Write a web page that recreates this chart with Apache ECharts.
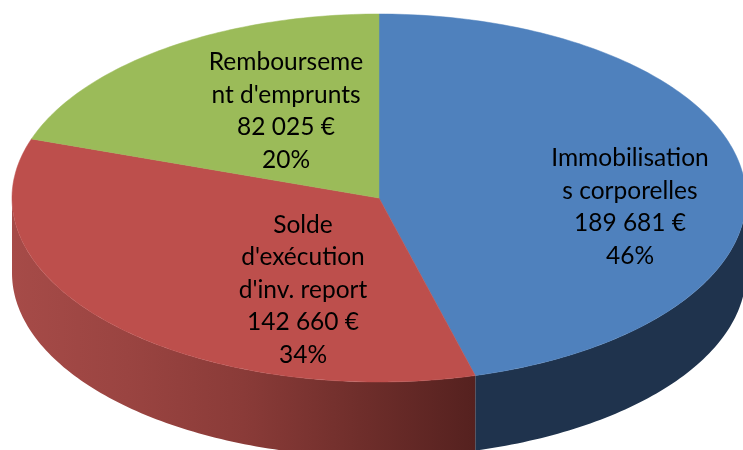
<!DOCTYPE html>
<html style="height: 100%">
<head>
    <meta charset="utf-8">
    <title>Emplois</title>
    <script src="https://cdn.jsdelivr.net/npm/echarts@6/dist/echarts.min.js"></script>
</head>
<body style="height: 100%; margin: 0; background: #fff">
<div id="container" style="width: 743px; height: 450px"></div>
<script type="text/javascript">
// chart data
var sliceNames = ['Immobilisation\ns corporelles', "Solde\nd'exécution\nd'inv. report", "Rembourseme\nnt d'emprunts"];
var sliceValues = [189681, 142660, 82025];
var slicePercents = ['46%', '34%', '20%'];
var valueLabels = ['189 681 €', '142 660 €', '82 025 €'];

// look of the flattened 3d pie
var topColors = ['#4f81bd', '#bd4f4c', '#9bbb59'];
var wallStops = [
    [{ offset: 0, color: '#1f334d' }, { offset: 1, color: '#1f334d' }],
    [
        { offset: 0, color: '#a64b48' },
        { offset: 0.25, color: '#9a4441' },
        { offset: 0.5, color: '#8a3b38' },
        { offset: 0.75, color: '#6f2e2b' },
        { offset: 1, color: '#55211f' }
    ],
    [{ offset: 0, color: '#6f8a3c' }, { offset: 1, color: '#6f8a3c' }]
];
var labelCenters = [[630, 207], [303, 290], [286, 111]];
var cx = 379, cy = 198, rx = 367, ry = 184, depth = 75;
var lineHeight = 32.5;

var total = sliceValues.reduce(function (a, b) { return a + b; }, 0);

function pointAt(deg, dy) {
    var r = deg * Math.PI / 180;
    return [cx + rx * Math.sin(r), cy - ry * Math.cos(r) + dy];
}

function arc(from, to, dy) {
    var pts = [];
    var n = Math.max(2, Math.ceil(Math.abs(to - from)));
    for (var i = 0; i <= n; i++) {
        pts.push(pointAt(from + (to - from) * i / n, dy));
    }
    return pts;
}

function renderSlice(params, api) {
    var idx = params.dataIndex;
    var before = 0;
    for (var i = 0; i < idx; i++) before += sliceValues[i];
    var start = before / total * 360;
    var end = (before + api.value(0)) / total * 360;
    var children = [];

    // only the front half of the rim can be seen
    var wallFrom = Math.max(start, 90), wallTo = Math.min(end, 270);
    if (wallTo > wallFrom) {
        children.push({
            type: 'polygon',
            shape: { points: arc(wallFrom, wallTo, 0).concat(arc(wallTo, wallFrom, depth)) },
            style: { fill: new echarts.graphic.LinearGradient(0, 0, 1, 0, wallStops[idx]) },
            z2: 1
        });
    }

    children.push({
        type: 'polygon',
        shape: { points: [[cx, cy]].concat(arc(start, end, 0)) },
        style: { fill: topColors[idx], stroke: topColors[idx], lineWidth: 0.5 },
        z2: 2
    });

    var text = sliceNames[idx] + '\n' + valueLabels[idx] + '\n' + slicePercents[idx];
    children.push({
        type: 'text',
        x: labelCenters[idx][0],
        y: labelCenters[idx][1],
        style: {
            text: text,
            fill: '#000',
            font: '24.5px Lato',
            lineHeight: lineHeight,
            align: 'center',
            verticalAlign: 'middle'
        },
        z2: 3
    });

    return { type: 'group', children: children };
}

var dom = document.getElementById('container');
var myChart = echarts.init(dom, null, { renderer: 'canvas' });

var option = {
    animation: false,
    series: [{
        type: 'custom',
        coordinateSystem: 'none',
        renderItem: renderSlice,
        data: sliceValues.map(function (v, i) { return { name: sliceNames[i], value: [v] }; })
    }]
};
myChart.setOption(option);
</script>
</body>
</html>
